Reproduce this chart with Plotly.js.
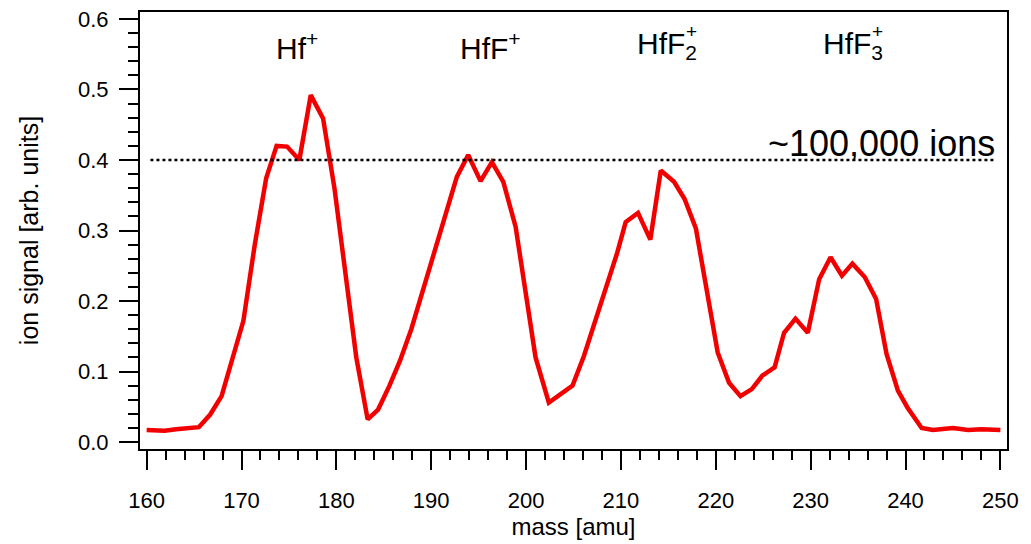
<!DOCTYPE html>
<html>
<head>
<meta charset="utf-8">
<script src="https://cdn.plot.ly/plotly-3.0.1.min.js"></script>
<style>
  html, body { margin: 0; padding: 0; background: #fff; }
  #chart { width: 1031px; height: 544px; }
</style>
</head>
<body>
<div id="chart"></div>
<script>
// mass [amu]
const mass = [160.0, 161.9, 163.1, 164.6, 165.5, 166.7, 167.9, 170.2, 171.4, 172.6, 173.7, 174.8, 176.1, 177.3, 178.6,
  179.8, 181.0, 182.1, 183.3, 184.4, 185.6, 186.7, 187.9, 189.1, 190.3, 191.5, 192.7, 193.9, 195.2, 196.4, 197.6,
  198.9, 199.9, 201.0, 202.4, 203.6, 204.9, 206.1, 207.3, 208.5, 209.6, 210.5, 211.8, 213.1, 214.2, 215.6, 216.7,
  217.9, 219.1, 220.2, 221.4, 222.6, 223.8, 224.9, 226.2, 227.2, 228.4, 229.7, 230.9, 232.1, 233.3, 234.4, 235.7,
  236.9, 238.0, 239.2, 240.2, 241.7, 242.9, 245.0, 246.6, 248.0, 250.0];
// ion signal [arb. units]
const signal = [0.017, 0.016, 0.018, 0.019, 0.021, 0.039, 0.065, 0.172, 0.280, 0.374, 0.420, 0.419, 0.400, 0.492, 0.459,
  0.360, 0.240, 0.120, 0.032, 0.046, 0.080, 0.115, 0.160, 0.215, 0.265, 0.320, 0.376, 0.407, 0.370, 0.397, 0.369,
  0.305, 0.220, 0.120, 0.056, 0.068, 0.080, 0.122, 0.172, 0.220, 0.268, 0.312, 0.325, 0.287, 0.385, 0.369, 0.345,
  0.303, 0.215, 0.127, 0.084, 0.065, 0.075, 0.094, 0.106, 0.155, 0.175, 0.155, 0.231, 0.262, 0.236, 0.253, 0.234,
  0.203, 0.125, 0.073, 0.049, 0.020, 0.017, 0.020, 0.017, 0.018, 0.017];

const xTicks = [160, 170, 180, 190, 200, 210, 220, 230, 240, 250];
const yTicks = [0.0, 0.1, 0.2, 0.3, 0.4, 0.5, 0.6];
const refLevel = 0.4;
const refLabel = "~100,000 ions";
const peakNames = ["Hf", "HfF", "HfF", "HfF"];
const peakSub = ["", "", "2", "3"];
const peakPos = [175.9, 196.2, 211.5, 231.1];

const FONT = "Liberation Sans, Arial, Helvetica, sans-serif";
const PEAK_SIZE = 30;

const annotations = [];
peakNames.forEach((n, i) => {
  if (peakSub[i] === "") {
    annotations.push({
      x: peakPos[i], y: 0.562, xref: "x", yref: "y", xanchor: "center", yanchor: "middle",
      text: n + "<sup>+</sup>", showarrow: false, font: {family: FONT, size: PEAK_SIZE, color: "#000"}
    });
  } else {
    annotations.push({
      x: peakPos[i], y: 0.562, xref: "x", yref: "y", xanchor: "left", yanchor: "middle",
      text: n + "<sub>" + peakSub[i] + "</sub>", showarrow: false, font: {family: FONT, size: PEAK_SIZE, color: "#000"}
    });
    annotations.push({
      x: peakPos[i], y: 0.562, xref: "x", yref: "y", xanchor: "left", yanchor: "middle",
      xshift: 49, yshift: 14,
      text: "+", showarrow: false, font: {family: FONT, size: 19, color: "#000"}
    });
  }
});
annotations.push({
  x: 249.6, y: 0.424, xref: "x", yref: "y", xanchor: "right", yanchor: "middle",
  text: refLabel, showarrow: false, font: {family: FONT, size: 36, color: "#000"}
});

const data = [{
  x: mass, y: signal, type: "scatter", mode: "lines",
  line: {color: "rgb(242,0,0)", width: 4.5},
  hoverinfo: "x+y"
}];

const layout = {
  width: 1031, height: 544,
  margin: {l: 140, r: 24, t: 12, b: 95, pad: 0},
  paper_bgcolor: "#fff", plot_bgcolor: "#fff",
  showlegend: false,
  font: {family: FONT, color: "#000"},
  xaxis: {
    range: [159.3, 250.7],
    tickmode: "array", tickvals: xTicks, ticktext: xTicks.map(String),
    ticks: "outside", ticklen: 19, tickwidth: 2, tickcolor: "#000",
    minor: {dtick: 2, tick0: 160, ticks: "outside", ticklen: 9, tickwidth: 2, tickcolor: "#000", showgrid: false},
    showline: true, linecolor: "#000", linewidth: 2, mirror: true,
    showgrid: false, zeroline: false,
    tickfont: {family: FONT, size: 22, color: "#000"},
    ticklabelstandoff: 12,
    title: {text: "mass [amu]", font: {family: FONT, size: 24, color: "#000"}, standoff: 4}
  },
  yaxis: {
    range: [-0.0099, 0.6099],
    tickmode: "array", tickvals: yTicks, ticktext: yTicks.map(v => v.toFixed(1)),
    ticks: "outside", ticklen: 19, tickwidth: 2, tickcolor: "#000",
    minor: {dtick: 0.02, tick0: 0, ticks: "outside", ticklen: 10, tickwidth: 2, tickcolor: "#000", showgrid: false},
    showline: true, linecolor: "#000", linewidth: 2, mirror: true,
    showgrid: false, zeroline: false,
    tickfont: {family: FONT, size: 22, color: "#000"},
    ticklabelstandoff: 6,
    title: {text: "ion signal [arb. units]", font: {family: FONT, size: 25, color: "#000"}, standoff: 32}
  },
  shapes: [{
    type: "line", xref: "x", yref: "y", x0: 160.4, x1: 249.3, y0: refLevel, y1: refLevel,
    line: {color: "#000", width: 2.5, dash: "dot"}
  }],
  annotations: annotations
};

Plotly.newPlot("chart", data, layout, {displayModeBar: false});
</script>
</body>
</html>
